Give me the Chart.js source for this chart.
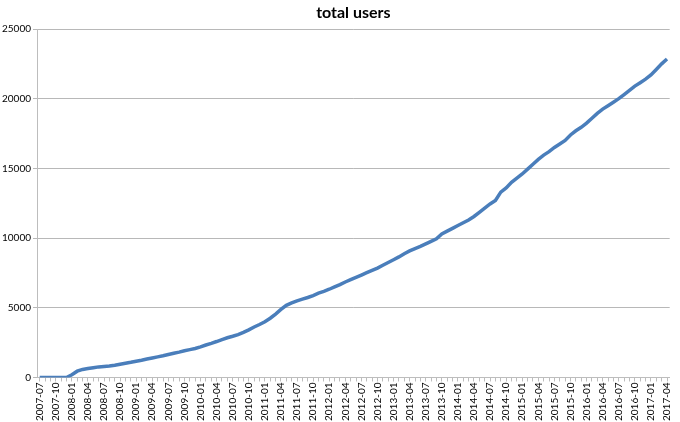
<!DOCTYPE html>
<html>
<head>
<meta charset="utf-8">
<script src="https://cdn.jsdelivr.net/npm/chart.js@4/dist/chart.umd.min.js"></script>
<style>
  html, body { margin: 0; padding: 0; background: #fff; }
  #wrap { width: 680px; height: 422px; }
</style>
</head>
<body>
<div id="wrap"><canvas id="usersChart" width="680" height="422"></canvas></div>
<script>
// monthly categories, 2007-07 .. 2017-04
const startYear = 2007, startMonth = 7, monthCount = 118;
const months = [];
for (let i = 0; i < monthCount; i++) {
    const m = startMonth - 1 + i;
    const y = startYear + Math.floor(m / 12);
    months.push(y + '-' + String(m % 12 + 1).padStart(2, '0'));
}

// total users
const totalUsers = [
    0, 0, 0, 0, 0, 0, 200, 450, 580, 640,
    700, 760, 790, 820, 880, 950, 1020, 1090, 1170, 1240,
    1320, 1400, 1480, 1560, 1650, 1740, 1820, 1920, 2000, 2080,
    2200, 2330, 2450, 2580, 2720, 2850, 2960, 3080, 3240, 3420,
    3620, 3800, 4000, 4250, 4550, 4880, 5180, 5350, 5500, 5620,
    5740, 5880, 6050, 6180, 6330, 6500, 6660, 6850, 7020, 7180,
    7350, 7520, 7680, 7850, 8050, 8250, 8450, 8650, 8880, 9080,
    9250, 9400, 9580, 9760, 9950, 10300, 10500, 10700, 10900, 11100,
    11300, 11550, 11850, 12150, 12450, 12700, 13300, 13600, 14000, 14300,
    14600, 14950, 15300, 15650, 15950, 16200, 16500, 16750, 17000, 17400,
    17700, 17950, 18250, 18600, 18950, 19250, 19500, 19750, 20000, 20300,
    20600, 20900, 21150, 21400, 21700, 22100, 22500, 22850
];

const yTicks = [0, 5000, 10000, 15000, 20000, 25000];
const chartTitle = 'total users';

const FONT = 'Lato, "Open Sans", sans-serif';

// title centred over the plot area, like the spreadsheet export
const areaTitle = {
    id: 'areaTitle',
    afterDraw(chart) {
        const { ctx, chartArea } = chart;
        ctx.save();
        ctx.font = 'bold 16px ' + FONT;
        ctx.fillStyle = '#000';
        ctx.textAlign = 'center';
        ctx.textBaseline = 'middle';
        ctx.fillText(chartTitle, (chartArea.left + chartArea.right) / 2, 13);
        ctx.restore();
    }
};

new Chart(document.getElementById('usersChart').getContext('2d'), {
    type: 'line',
    data: {
        labels: months,
        datasets: [{
            label: chartTitle,
            data: totalUsers,
            borderColor: '#4a7ebb',
            borderWidth: 3.5,
            pointRadius: 0,
            tension: 0,
            fill: false
        }]
    },
    options: {
        responsive: false,
        animation: false,
        layout: { padding: { top: 29, right: 0, left: 0, bottom: 0 } },
        plugins: { legend: { display: false }, title: { display: false }, tooltip: { enabled: false } },
        scales: {
            x: {
                offset: true,
                grid: { display: true, drawOnChartArea: false, drawTicks: true, tickLength: 4, color: '#bdbdbd', offset: false },
                border: { color: '#bdbdbd' },
                ticks: {
                    autoSkip: false, maxRotation: 90, minRotation: 90,
                    color: '#000', font: { family: FONT, size: 10 }, padding: 1,
                    callback: (v, i) => i % 3 === 0 ? months[i] : ''
                }
            },
            y: {
                min: 0, max: 25000,
                afterBuildTicks: axis => { axis.ticks = yTicks.map(v => ({ value: v })); },
                grid: { color: '#b8b8b8', tickLength: 4 },
                border: { color: '#bdbdbd' },
                ticks: { color: '#000', font: { family: FONT, size: 10 }, padding: 2, callback: v => String(v) }
            }
        }
    },
    plugins: [areaTitle]
});
</script>
</body>
</html>
